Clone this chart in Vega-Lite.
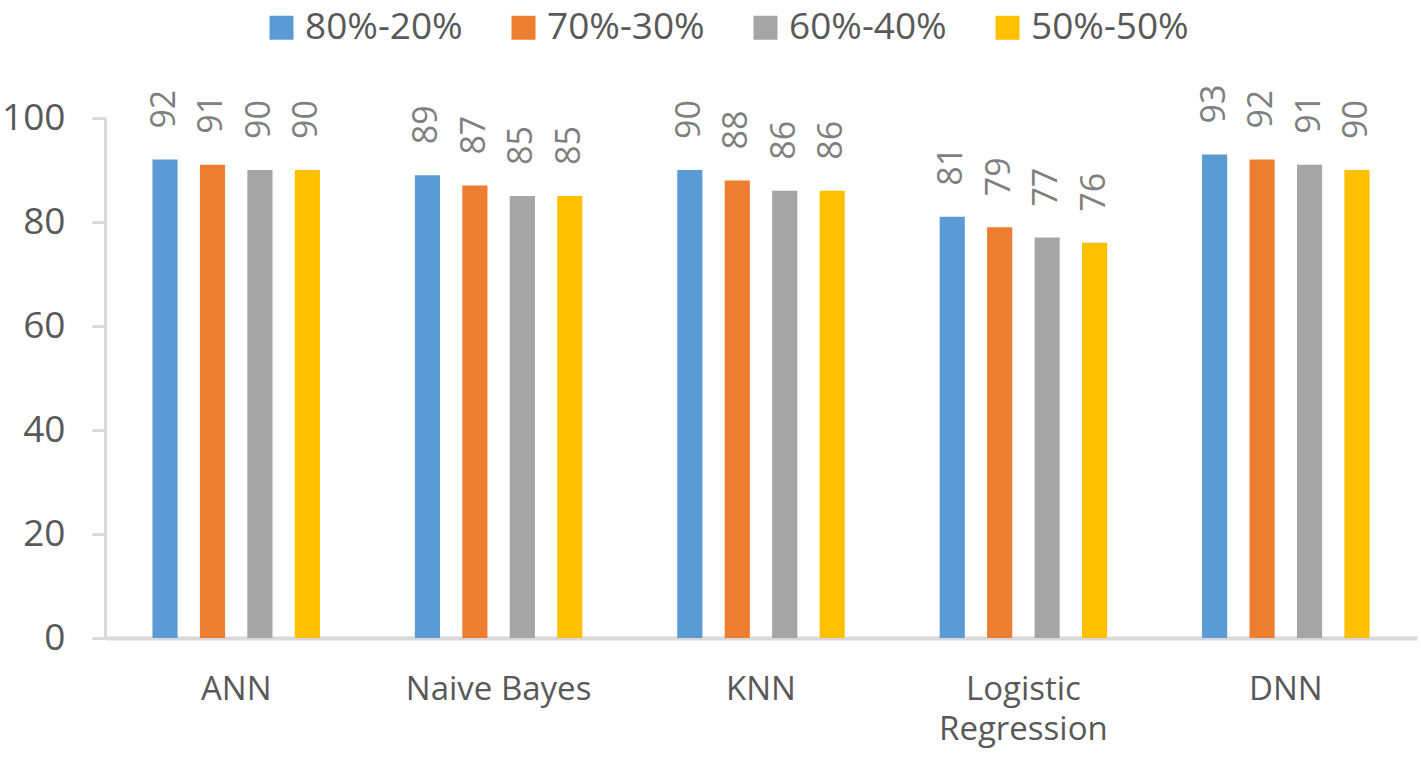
{
  "$schema": "https://vega.github.io/schema/vega-lite/v6.json",
  "width": 1312,
  "height": 520,
  "autosize": {"type": "none"},
  "padding": {"left": 105, "top": 118, "right": 4, "bottom": 120},
  "background": "white",
  "config": {
    "view": {"stroke": null},
    "font": "Open Sans"
  },
  "data": {
    "values": [
      {"model": "ANN", "split": "80%-20%", "acc": 92},
      {"model": "ANN", "split": "70%-30%", "acc": 91},
      {"model": "ANN", "split": "60%-40%", "acc": 90},
      {"model": "ANN", "split": "50%-50%", "acc": 90},
      {"model": "Naive Bayes", "split": "80%-20%", "acc": 89},
      {"model": "Naive Bayes", "split": "70%-30%", "acc": 87},
      {"model": "Naive Bayes", "split": "60%-40%", "acc": 85},
      {"model": "Naive Bayes", "split": "50%-50%", "acc": 85},
      {"model": "KNN", "split": "80%-20%", "acc": 90},
      {"model": "KNN", "split": "70%-30%", "acc": 88},
      {"model": "KNN", "split": "60%-40%", "acc": 86},
      {"model": "KNN", "split": "50%-50%", "acc": 86},
      {"model": "Logistic Regression", "split": "80%-20%", "acc": 81},
      {"model": "Logistic Regression", "split": "70%-30%", "acc": 79},
      {"model": "Logistic Regression", "split": "60%-40%", "acc": 77},
      {"model": "Logistic Regression", "split": "50%-50%", "acc": 76},
      {"model": "DNN", "split": "80%-20%", "acc": 93},
      {"model": "DNN", "split": "70%-30%", "acc": 92},
      {"model": "DNN", "split": "60%-40%", "acc": 91},
      {"model": "DNN", "split": "50%-50%", "acc": 90}
    ]
  },
  "encoding": {
    "x": {
      "field": "model",
      "type": "nominal",
      "sort": ["ANN", "Naive Bayes", "KNN", "Logistic Regression", "DNN"],
      "scale": {"paddingInner": 0, "paddingOuter": 0},
      "axis": {
        "title": null,
        "labelAngle": 0,
        "labelFontSize": 33,
        "labelColor": "#595959",
        "labelPadding": 35,
        "labelLineHeight": 40,
        "labelLimit": 400,
        "labelExpr": "datum.label == 'Logistic Regression' ? ['Logistic', 'Regression'] : datum.label",
        "ticks": false,
        "tickSize": 0,
        "domainColor": "#D9D9D9",
        "domainWidth": 4,
        "grid": false
      }
    },
    "xOffset": {
      "field": "split",
      "type": "nominal",
      "sort": ["80%-20%", "70%-30%", "60%-40%", "50%-50%"],
      "scale": {"paddingInner": 0.47, "paddingOuter": 1.18}
    },
    "y": {
      "field": "acc",
      "type": "quantitative",
      "scale": {"domain": [0, 100], "nice": false},
      "axis": {
        "title": null,
        "values": [0, 20, 40, 60, 80, 100],
        "labelFontSize": 37,
        "labelColor": "#595959",
        "labelPadding": 27,
        "tickSize": 13,
        "tickColor": "#D9D9D9",
        "tickWidth": 3,
        "domainColor": "#D9D9D9",
        "domainWidth": 3,
        "grid": false
      }
    }
  },
  "layer": [
    {
      "mark": {"type": "bar"},
      "encoding": {
        "color": {
          "field": "split",
          "type": "nominal",
          "sort": ["80%-20%", "70%-30%", "60%-40%", "50%-50%"],
          "scale": {
            "domain": ["80%-20%", "70%-30%", "60%-40%", "50%-50%"],
            "range": ["#5B9BD5", "#ED7D31", "#A5A5A5", "#FFC000"]
          },
          "legend": {
            "title": null,
            "orient": "none",
            "direction": "horizontal",
            "legendX": 158,
            "legendY": -109,
            "symbolType": "square",
            "symbolSize": 576,
            "symbolStrokeWidth": 0,
            "labelFontSize": 37,
            "labelColor": "#595959",
            "labelOffset": 5,
            "columnPadding": 42,
            "labelLimit": 400
          }
        }
      }
    },
    {
      "mark": {
        "type": "text",
        "angle": -90,
        "align": "left",
        "baseline": "middle",
        "dx": 31,
        "fontSize": 34,
        "color": "#7F7F7F"
      },
      "encoding": {
        "text": {"field": "acc", "type": "quantitative"}
      }
    }
  ]
}
